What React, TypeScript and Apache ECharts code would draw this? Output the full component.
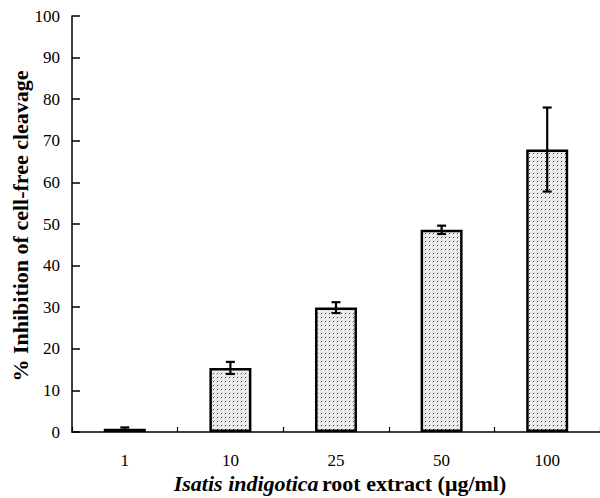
import React, { useEffect, useRef } from "react";
import * as echarts from "echarts";

const categories = ["1", "10", "25", "50", "100"];
const means = [0.8, 15.4, 29.9, 48.6, 67.9];
const errors = [0.3, 1.45, 1.3, 1.0, 10.1];
const yTicks = { min: 0, max: 100, interval: 10 };

const FONT = "'Liberation Serif', 'Times New Roman', serif";

function makePattern(): HTMLCanvasElement {
  const c = document.createElement("canvas");
  c.width = 4;
  c.height = 4;
  const ctx = c.getContext("2d")!;
  ctx.fillStyle = "#eeeeee";
  ctx.fillRect(0, 0, 4, 4);
  ctx.fillStyle = "#d4d4d4";
  ctx.fillRect(2, 0, 1, 1);
  ctx.fillRect(0, 2, 1, 1);
  ctx.fillStyle = "#3a3a3a";
  ctx.fillRect(1, 1, 1, 1);
  return c;
}

export default function App() {
  const ref = useRef<HTMLDivElement>(null);
  useEffect(() => {
    if (!ref.current) return;
    const chart = echarts.init(ref.current, null, { renderer: "svg" });
    const pattern = makePattern();
    const errData = means.map((m, i) => [i, m - errors[i], m + errors[i]]);
    chart.setOption({
      animation: false,
      backgroundColor: "#ffffff",
      grid: { left: 72, top: 16, width: 531, height: 416, containLabel: false },
      xAxis: {
        type: "category",
        data: categories,
        boundaryGap: true,
        axisLine: { lineStyle: { color: "#000", width: 1.5 } },
        axisTick: { show: true, inside: true, length: 5, alignWithLabel: false, lineStyle: { color: "#000", width: 1.2 } },
        axisLabel: { color: "#000", fontFamily: FONT, fontSize: 17, margin: 20 },
        splitLine: { show: false },
      },
      yAxis: {
        type: "value",
        min: yTicks.min,
        max: yTicks.max,
        interval: yTicks.interval,
        axisLine: { show: true, lineStyle: { color: "#000", width: 1.5 } },
        axisTick: { show: true, inside: true, length: 8, lineStyle: { color: "#000", width: 1.5 } },
        axisLabel: { color: "#000", fontFamily: FONT, fontSize: 17, margin: 12 },
        splitLine: { show: false },
      },
      series: [
        {
          type: "bar",
          data: means,
          barWidth: 42,
          itemStyle: {
            color: { image: pattern, repeat: "repeat" },
            borderColor: "#000",
            borderWidth: 2.5,
          },
        },
        {
          type: "custom",
          data: errData,
          z: 10,
          renderItem: (params: any, api: any) => {
            const x = api.value(0);
            const lo = api.coord([x, api.value(1)]);
            const hi = api.coord([x, api.value(2)]);
            const cap = 4.5;
            const style = { stroke: "#000", lineWidth: 2.2 };
            return {
              type: "group",
              children: [
                { type: "line", shape: { x1: lo[0], y1: lo[1], x2: hi[0], y2: hi[1] }, style },
                { type: "line", shape: { x1: hi[0] - cap, y1: hi[1], x2: hi[0] + cap, y2: hi[1] }, style },
                { type: "line", shape: { x1: lo[0] - cap, y1: lo[1], x2: lo[0] + cap, y2: lo[1] }, style },
              ],
            };
          },
        },
      ],
      graphic: [
        {
          type: "text",
          x: 20,
          y: 226,
          rotation: Math.PI / 2,
          style: {
            text: "% Inhibition of cell-free cleavage",
            fontFamily: FONT,
            fontSize: 22,
            fontWeight: "bold",
            fill: "#000",
            align: "center",
            verticalAlign: "middle",
          },
        },
        {
          type: "text",
          x: 340,
          y: 483,
          style: {
            text: "{i|Isatis indigotica} {b|root extract (μg/ml)}",
            align: "center",
            verticalAlign: "middle",
            rich: {
              i: { fontFamily: FONT, fontSize: 22, fontWeight: "bold", fontStyle: "italic", fill: "#000" },
              b: { fontFamily: FONT, fontSize: 22, fontWeight: "bold", fill: "#000" },
            },
          },
        },
      ],
    });
    return () => chart.dispose();
  }, []);
  return (
    <div
      ref={ref}
      style={{ position: "absolute", left: 0, top: 0, width: 600, height: 498 }}
    />
  );
}
